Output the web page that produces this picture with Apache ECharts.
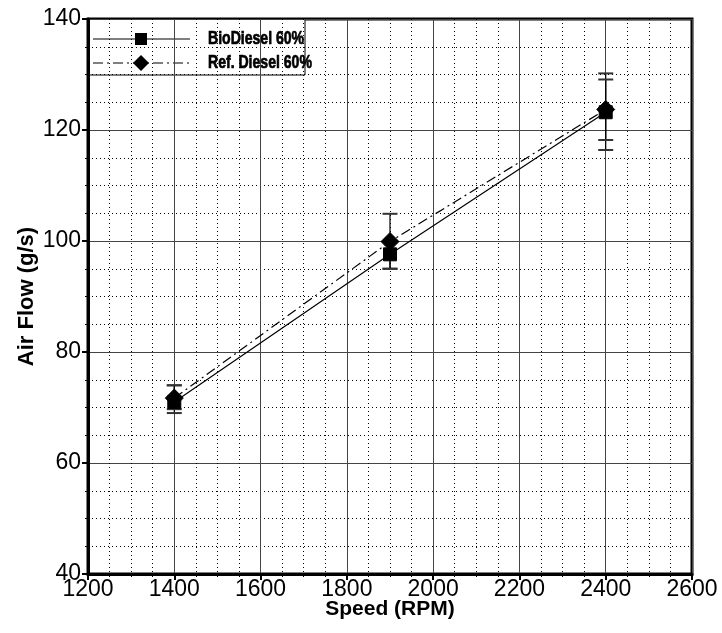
<!DOCTYPE html>
<html>
<head>
<meta charset="utf-8">
<script src="https://cdn.jsdelivr.net/npm/echarts@6/dist/echarts.min.js"></script>
<style>html,body{margin:0;padding:0;background:#fff}#c{width:722px;height:633px}</style>
</head>
<body>
<div id="c"></div>
<script>
var speeds = [1400, 1900, 2400];
var bioValues = [71.0, 97.6, 123.2];
var dieselValues = [71.7, 99.9, 123.7];
var bioLow = [69.0, 95.0, 116.4];
var bioHigh = [74.0, 100.0, 130.2];
var dieselLow = [69.7, 95.0, 118.2];
var dieselHigh = [74.0, 104.9, 129.1];
var seriesNames = ['BioDiesel 60%', 'Ref. Diesel 60%'];
var xTicks = [1200, 1400, 1600, 1800, 2000, 2200, 2400, 2600];
var yTicks = [40, 60, 80, 100, 120, 140];

function pairs(xs, ys) { return xs.map(function (x, i) { return [x, ys[i]]; }); }
function errData(xs, lo, hi) { return xs.map(function (x, i) { return [x, lo[i], hi[i]]; }); }

function errRender(params, api) {
  var x = api.value(0);
  var p1 = api.coord([x, api.value(1)]);
  var p2 = api.coord([x, api.value(2)]);
  var w = 7.5;
  return {
    type: 'group',
    children: [
      { type: 'line', shape: { x1: p1[0], y1: p1[1], x2: p2[0], y2: p2[1] }, style: { stroke: '#000', lineWidth: 1.2 } },
      { type: 'line', shape: { x1: p1[0] - w, y1: p1[1], x2: p1[0] + w, y2: p1[1] }, style: { stroke: '#333', lineWidth: 2 } },
      { type: 'line', shape: { x1: p2[0] - w, y1: p2[1], x2: p2[0] + w, y2: p2[1] }, style: { stroke: '#333', lineWidth: 2 } }
    ]
  };
}

var font = "'Liberation Sans', Arial, sans-serif";
var dashDot = [10, 4, 2, 4];

// legend drawn as graphic (condensed bold text like the original)
var legendX = 88, legendY = 19, legendW = 217, legendH = 56;
function legendRow(y, name, symbolShape, dash) {
  var children = [
    { type: 'line', shape: { x1: legendX + 5, y1: y, x2: legendX + 102, y2: y },
      style: { stroke: '#000', lineWidth: 1.2, lineDash: dash } },
    symbolShape,
    { type: 'text', x: legendX + 120, y: y, scaleX: 0.74,
      style: { text: name, fill: '#000', stroke: '#000', lineWidth: 0.7, fontSize: 19, fontWeight: 'bold', fontFamily: font, verticalAlign: 'middle', align: 'left' } }
  ];
  return { type: 'group', children: children };
}
var cx = legendX + 53;
var legendGraphic = {
  type: 'group', z: 100,
  children: [
    { type: 'rect', shape: { x: legendX, y: legendY, width: legendW, height: legendH },
      style: { fill: '#fff', stroke: '#000', lineWidth: 1 } },
    legendRow(legendY + 20, seriesNames[0],
      { type: 'rect', shape: { x: cx - 6, y: legendY + 14, width: 12, height: 12 }, style: { fill: '#000' } }, null),
    legendRow(legendY + 44, seriesNames[1],
      { type: 'polygon', shape: { points: [[cx, legendY + 36], [cx + 8, legendY + 44], [cx, legendY + 52], [cx - 8, legendY + 44]] }, style: { fill: '#000' } }, dashDot)
  ]
};

var chart = echarts.init(document.getElementById('c'), null, { renderer: 'canvas' });
chart.setOption({
  animation: false,
  backgroundColor: '#fff',
  grid: { left: 88, right: 30, top: 19, bottom: 59, show: true, borderColor: '#000', borderWidth: 3,
    backgroundColor: 'transparent', outerBoundsMode: 'none', containLabel: false },
  graphic: [legendGraphic],
  xAxis: {
    type: 'value', min: xTicks[0], max: xTicks[xTicks.length - 1], interval: 200,
    name: 'Speed (RPM)', nameLocation: 'middle', nameGap: 25, nameMoveOverlap: false,
    nameTextStyle: { fontFamily: font, fontWeight: 'bold', fontSize: 21, color: '#000', verticalAlign: 'top' },
    axisLine: { show: true, onZero: false, lineStyle: { color: '#000', width: 3 } },
    axisTick: { show: true, length: 6, lineStyle: { color: '#000', width: 2 } },
    minorTick: { show: true, splitNumber: 4, length: 3, lineStyle: { color: '#000', width: 1 } },
    axisLabel: { fontFamily: font, fontSize: 23, color: '#000', margin: 4, formatter: function (v) { return String(v); } },
    splitLine: { show: true, lineStyle: { color: '#444', width: 1 } },
    minorSplitLine: { show: true, lineStyle: { color: '#000', width: 1, type: [1, 3] } }
  },
  yAxis: {
    type: 'value', min: yTicks[0], max: yTicks[yTicks.length - 1], interval: 20,
    name: 'Air Flow (g/s)', nameLocation: 'middle', nameGap: 50, nameRotate: 90, nameMoveOverlap: false,
    nameTextStyle: { fontFamily: font, fontWeight: 'bold', fontSize: 22, color: '#000' },
    axisLine: { show: true, onZero: false, lineStyle: { color: '#000', width: 3 } },
    axisTick: { show: true, length: 6, lineStyle: { color: '#000', width: 2 } },
    minorTick: { show: true, splitNumber: 4, length: 3, lineStyle: { color: '#000', width: 1 } },
    axisLabel: { fontFamily: font, fontSize: 23, color: '#000', margin: 7, formatter: function (v) { return String(v); } },
    splitLine: { show: true, lineStyle: { color: '#444', width: 1 } },
    minorSplitLine: { show: true, lineStyle: { color: '#000', width: 1, type: [1, 3] } }
  },
  series: [
    { type: 'custom', renderItem: errRender, data: errData(speeds, bioLow, bioHigh), z: 3, silent: true },
    { type: 'custom', renderItem: errRender, data: errData(speeds, dieselLow, dieselHigh), z: 3, silent: true },
    {
      name: seriesNames[0], type: 'line', data: pairs(speeds, bioValues), z: 5,
      symbol: 'rect', symbolSize: 13,
      lineStyle: { color: '#000', width: 1.2, type: 'solid' },
      itemStyle: { color: '#000', borderColor: '#000' }
    },
    {
      name: seriesNames[1], type: 'line', data: pairs(speeds, dieselValues), z: 6,
      symbol: 'diamond', symbolSize: 18,
      lineStyle: { color: '#000', width: 1.2, type: dashDot },
      itemStyle: { color: '#000', borderColor: '#000' }
    }
  ]
});
</script>
</body>
</html>
